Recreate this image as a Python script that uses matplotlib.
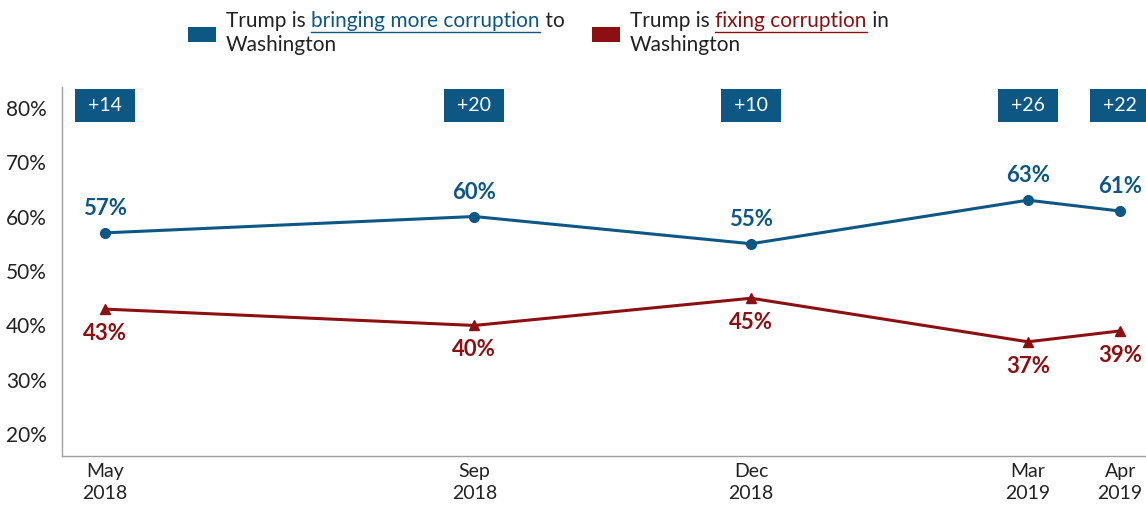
import matplotlib
matplotlib.use("Agg")
import matplotlib.pyplot as plt

plt.rcParams['font.family'] = ['Lato', 'DejaVu Sans']

# --- DATA ---
months = [0, 4, 7, 10, 11]          # months since May 2018
tick_labels = ["May\n2018", "Sep\n2018", "Dec\n2018", "Mar\n2019", "Apr\n2019"]
more_corruption = [57, 60, 55, 63, 61]
fixing_corruption = [43, 40, 45, 37, 39]
gaps = ["+14", "+20", "+10", "+26", "+22"]

BLUE = '#0d5784'
RED = '#8c0f12'
TEXT = '#222222'

fig = plt.figure(figsize=(11.46, 5.08), dpi=100)
ax = fig.add_axes([0.054, 0.102, 0.946, 0.727])

ax.plot(months, more_corruption, color=BLUE, lw=2.2, marker='o', ms=7, zorder=3)
ax.plot(months, fixing_corruption, color=RED, lw=2.2, marker='^', ms=7, zorder=3)

for x, v in zip(months, more_corruption):
    ax.annotate(f"{v}%", (x, v), xytext=(0, 10), textcoords='offset points',
                ha='center', va='bottom', color=BLUE, fontsize=16, fontweight='bold')
for x, v in zip(months, fixing_corruption):
    ax.annotate(f"{v}%", (x, v), xytext=(0, -10), textcoords='offset points',
                ha='center', va='top', color=RED, fontsize=16, fontweight='bold')

# gap boxes along the top
box_w, box_h, box_y = 0.65, 6.05, 80.37
for x, g in zip(months, gaps):
    ax.add_patch(plt.Rectangle((x - box_w / 2, box_y - box_h / 2), box_w, box_h,
                               fc=BLUE, ec='none', clip_on=False, zorder=4))
    ax.text(x, box_y, g, ha='center', va='center', color='white', fontsize=14,
            clip_on=False, zorder=5)

ax.set_xlim(-0.47, 11.28)
ax.set_ylim(16, 83.8)
ax.set_yticks([20, 30, 40, 50, 60, 70, 80])
ax.set_yticklabels([f"{t}%" for t in range(20, 90, 10)])
ax.set_xticks(months)
ax.set_xticklabels(tick_labels, linespacing=1.35)
ax.tick_params(length=0, labelcolor=TEXT)
ax.tick_params(axis='x', pad=5, labelsize=14)
ax.tick_params(axis='y', pad=11, labelsize=15)
for s in ['top', 'right']:
    ax.spines[s].set_visible(False)
for s in ['left', 'bottom']:
    ax.spines[s].set_color('#a0a0a0')
    ax.spines[s].set_linewidth(1.0)

# --- LEGEND with underlined phrases ---
fig.canvas.draw()
renderer = fig.canvas.get_renderer()


def legend_entry(x0, color, pre, key, post, line2):
    fig.patches.append(plt.Rectangle((x0 / 1146, 1 - 42 / 508), 28 / 1146, 15 / 508,
                                     transform=fig.transFigure, fc=color, ec='none'))
    tx = (x0 + 38) / 1146
    y1 = 1 - 21 / 508
    x = tx
    for part, c, under in [(pre, TEXT, False), (key, color, True), (post, TEXT, False)]:
        t = fig.text(x, y1, part, ha='left', va='center', fontsize=15, color=c)
        bb = t.get_window_extent(renderer).transformed(fig.transFigure.inverted())
        if under:
            uy = 1 - 32 / 508
            fig.add_artist(plt.Line2D([bb.x0, bb.x1], [uy, uy], color=color, lw=1.0,
                                      transform=fig.transFigure))
        x = bb.x1
    fig.text(tx, 1 - 45 / 508, line2, ha='left', va='center', fontsize=15, color=TEXT)


legend_entry(188, BLUE, "Trump is ", "bringing more corruption", " to", "Washington")
legend_entry(592, RED, "Trump is ", "fixing corruption", " in", "Washington")

fig.savefig("out.png", dpi=100)
